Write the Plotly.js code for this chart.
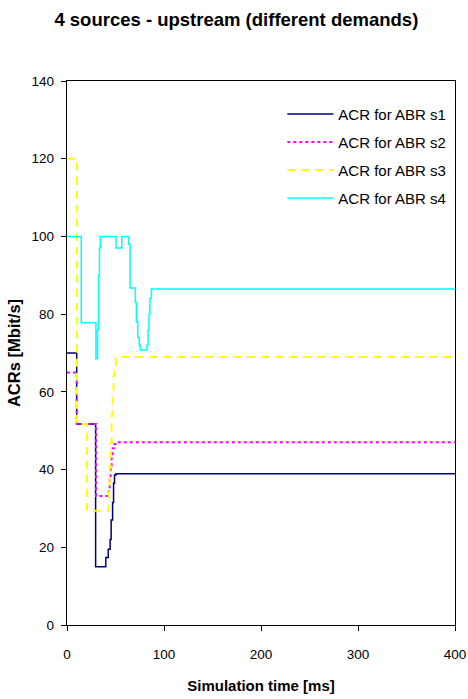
<!DOCTYPE html>
<html>
<head>
<meta charset="utf-8">
<script src="https://cdn.plot.ly/plotly-3.0.1.min.js"></script>
<style>html,body{margin:0;padding:0;background:#fff;}#chart{width:468px;height:699px;}</style>
</head>
<body>
<div id="chart"></div>
<script>
// Series names
var seriesNames = ["ACR for ABR s1", "ACR for ABR s2", "ACR for ABR s3", "ACR for ABR s4"];
// Simulation time [ms] and ACR [Mbit/s] for each source (step values)
var s1Time = [0, 10, 29.5, 40, 42.5, 44.5, 45.5, 47, 48, 49, 50.5, 400];
var s1Acr  = [70, 51.7, 15, 17.4, 19.5, 22, 27, 31.5, 36.5, 38.6, 38.9, 38.9];
var s2Time = [0, 10, 30, 43, 44, 45, 46, 47, 48.5, 50, 400];
var s2Acr  = [65, 51.7, 33.2, 35, 38, 41, 43.5, 45.5, 46.5, 47, 47];
var s3Time = [0, 10.3, 20.6, 43, 44, 45, 46, 47, 48, 49, 50.5, 400];
var s3Acr  = [120, 51.7, 29.4, 35, 41, 47, 54, 60, 64, 66.5, 69, 69];
var s4Time = [0, 14.7, 29.8, 31.5, 32.5, 33.5, 34.3, 50.5, 56.5, 63.4, 65, 70.5, 71.5, 73, 74.5, 75.5, 82.5, 83.5, 84.5, 85.5, 87, 400];
var s4Acr  = [100, 77.8, 68.5, 76, 90, 97, 100, 97, 100, 98, 86.7, 83, 78, 74, 72, 70.8, 72, 76, 80, 84, 86.5, 86.5];
var xTicks = [0, 100, 200, 300, 400];
var yTicks = [0, 20, 40, 60, 80, 100, 120, 140];

var FONT = "'Liberation Sans Narrow', 'Arial Narrow', 'Liberation Sans', Arial, sans-serif";

function tr(x, y, name, color, dash, width, grp) {
  return {x: x, y: y, name: name, type: 'scatter', mode: 'lines',
    line: {color: color, dash: dash, width: width, shape: 'hv'}, legendgroup: grp};
}
var data = [
  tr(s1Time, s1Acr, seriesNames[0], '#000080', 'solid', 1.5, 'a'),
  tr(s2Time, s2Acr, seriesNames[1], '#ff00ff', '3px,3px', 2, 'b'),
  tr(s3Time, s3Acr, seriesNames[2], '#ffff00', '8px,6px', 2, 'c'),
  tr(s4Time, s4Acr, seriesNames[3], '#00ffff', 'solid', 1.5, 'd')
];

var layout = {
  width: 468, height: 699,
  margin: {l: 67, r: 13, t: 81, b: 74},
  paper_bgcolor: '#fff', plot_bgcolor: '#fff',
  font: {family: FONT, size: 14, color: '#000'},
  title: {text: '<b>4 sources - upstream (different demands)</b>', font: {family: FONT, size: 18.5, color: '#000'},
    x: 0.505, xanchor: 'center', y: 0.972, yanchor: 'middle'},
  showlegend: true,
  legend: {x: 0.555, xanchor: 'left', y: 0.969, yanchor: 'top', bgcolor: 'rgba(0,0,0,0)',
    font: {family: FONT, size: 15, color: '#000'}, itemwidth: 46, tracegroupgap: 5.5, traceorder: 'grouped'},
  xaxis: {range: [0, 400], tickvals: xTicks, ticks: 'outside', ticklen: 5, tickcolor: '#000',
    showline: true, linecolor: '#000', linewidth: 1.3, mirror: true, showgrid: false, zeroline: false,
    tickfont: {family: FONT, size: 13.5}, ticklabelstandoff: 11,
    title: {text: '<b>Simulation time [ms]</b>', font: {family: FONT, size: 15}, standoff: 20}},
  yaxis: {range: [0, 140], tickvals: yTicks, ticks: 'outside', ticklen: 5, tickcolor: '#000',
    showline: true, linecolor: '#000', linewidth: 1.3, mirror: true, showgrid: false, zeroline: false,
    tickfont: {family: FONT, size: 13.5}, ticklabelstandoff: 4,
    title: {text: '<b>ACRs [Mbit/s]</b>', font: {family: FONT, size: 16.5}, standoff: 6}}
};
Plotly.newPlot('chart', data, layout, {displayModeBar: false, staticPlot: true});
</script>
</body>
</html>
